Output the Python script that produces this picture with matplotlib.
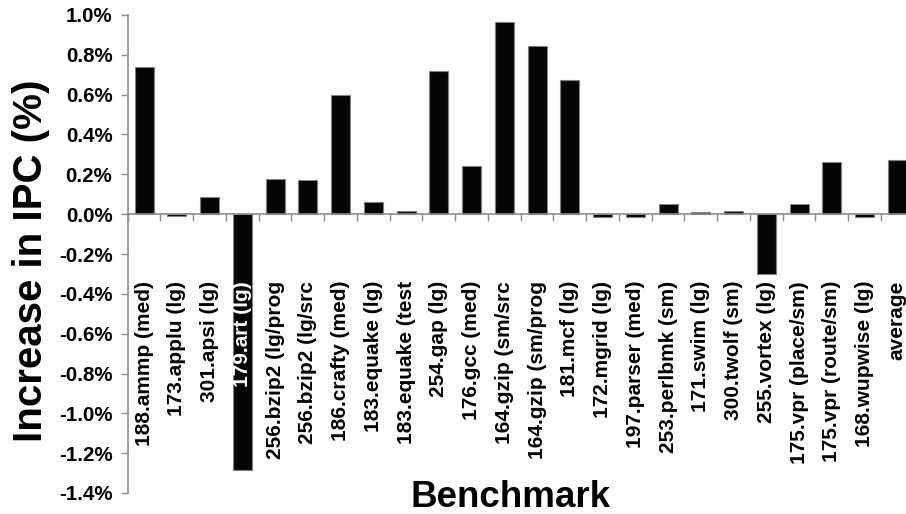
import matplotlib
matplotlib.use("Agg")
import matplotlib.pyplot as plt
import matplotlib.transforms as mtransforms
import numpy as np

categories = ["188.ammp (med)", "173.applu (lg)", "301.apsi (lg)", "179.art (lg)",
              "256.bzip2 (lg/prog", "256.bzip2 (lg/src", "186.crafty (med)",
              "183.equake (lg)", "183.equake (test", "254.gap (lg)", "176.gcc (med)",
              "164.gzip (sm/src", "164.gzip (sm/prog", "181.mcf (lg)", "172.mgrid (lg)",
              "197.parser (med)", "253.perlbmk (sm)", "171.swim (lg)", "300.twolf (sm)",
              "255.vortex (lg)", "175.vpr (place/sm)", "175.vpr (route/sm)",
              "168.wupwise (lg)", "average"]
values = [0.741, -0.008, 0.088, -1.287, 0.176, 0.171, 0.600, 0.062, 0.017, 0.718,
          0.242, 0.965, 0.846, 0.673, -0.012, -0.014, 0.053, 0.010, 0.017, -0.300,
          0.050, 0.262, -0.012, 0.272]
yticks = [1.0, 0.8, 0.6, 0.4, 0.2, 0.0, -0.2, -0.4, -0.6, -0.8, -1.0, -1.2, -1.4]

plt.rcParams['font.family'] = ['Liberation Sans', 'DejaVu Sans']

W, H = 906, 514
fig = plt.figure(figsize=(W / 100, H / 100), dpi=100)
left_px, right_px, top_px, bot_px = 127.7, 913.7, 15.0, 493.0
ax = fig.add_axes([left_px / W, 1 - bot_px / H, (right_px - left_px) / W, (bot_px - top_px) / H])

x = np.arange(len(categories))
ax.bar(x, values, width=0.58, color='#050505', edgecolor='#808080', linewidth=0.8, zorder=2)

ax.set_xlim(-0.5, len(categories) - 0.5)
ax.set_ylim(-1.4, 1.0)
ax.set_yticks(yticks)
ax.set_yticklabels([f"{v:.1f}%" for v in yticks], fontsize=14.8, fontweight='bold')

grey = '#8c8c8c'
for s in ['top', 'right']:
    ax.spines[s].set_visible(False)
ax.spines['left'].set_color(grey)
ax.spines['left'].set_linewidth(1.2)
ax.spines['bottom'].set_position(('data', 0))
ax.spines['bottom'].set_color(grey)
ax.spines['bottom'].set_linewidth(1.2)
ax.spines['bottom'].set_zorder(3)

ax.set_xticks(np.arange(len(categories) + 1) - 0.5)
ax.set_xticklabels([])
ax.tick_params(axis='x', direction='out', length=5, width=1.0, color=grey)
ax.tick_params(axis='y', direction='out', length=5, width=1.0, color=grey, pad=6)

trans = mtransforms.blended_transform_factory(ax.transData, ax.transData)
for i, (c, v) in enumerate(zip(categories, values)):
    color = 'white' if v < -0.5 else 'black'
    ax.text(i, -0.335, c, rotation=90, ha='center', va='top', fontsize=15,
            fontweight='bold', color=color, transform=trans, zorder=4)

fig.text(12 / W, 1 - 261 / H, "Increase in IPC (%)", rotation=90, ha='left', va='center',
         fontsize=29, fontweight='bold')
fig.text(511 / W, 1 - 506.7 / H, "Benchmark", ha='center', va='baseline',
         fontsize=26.5, fontweight='bold')

fig.savefig("out.png", dpi=100)
